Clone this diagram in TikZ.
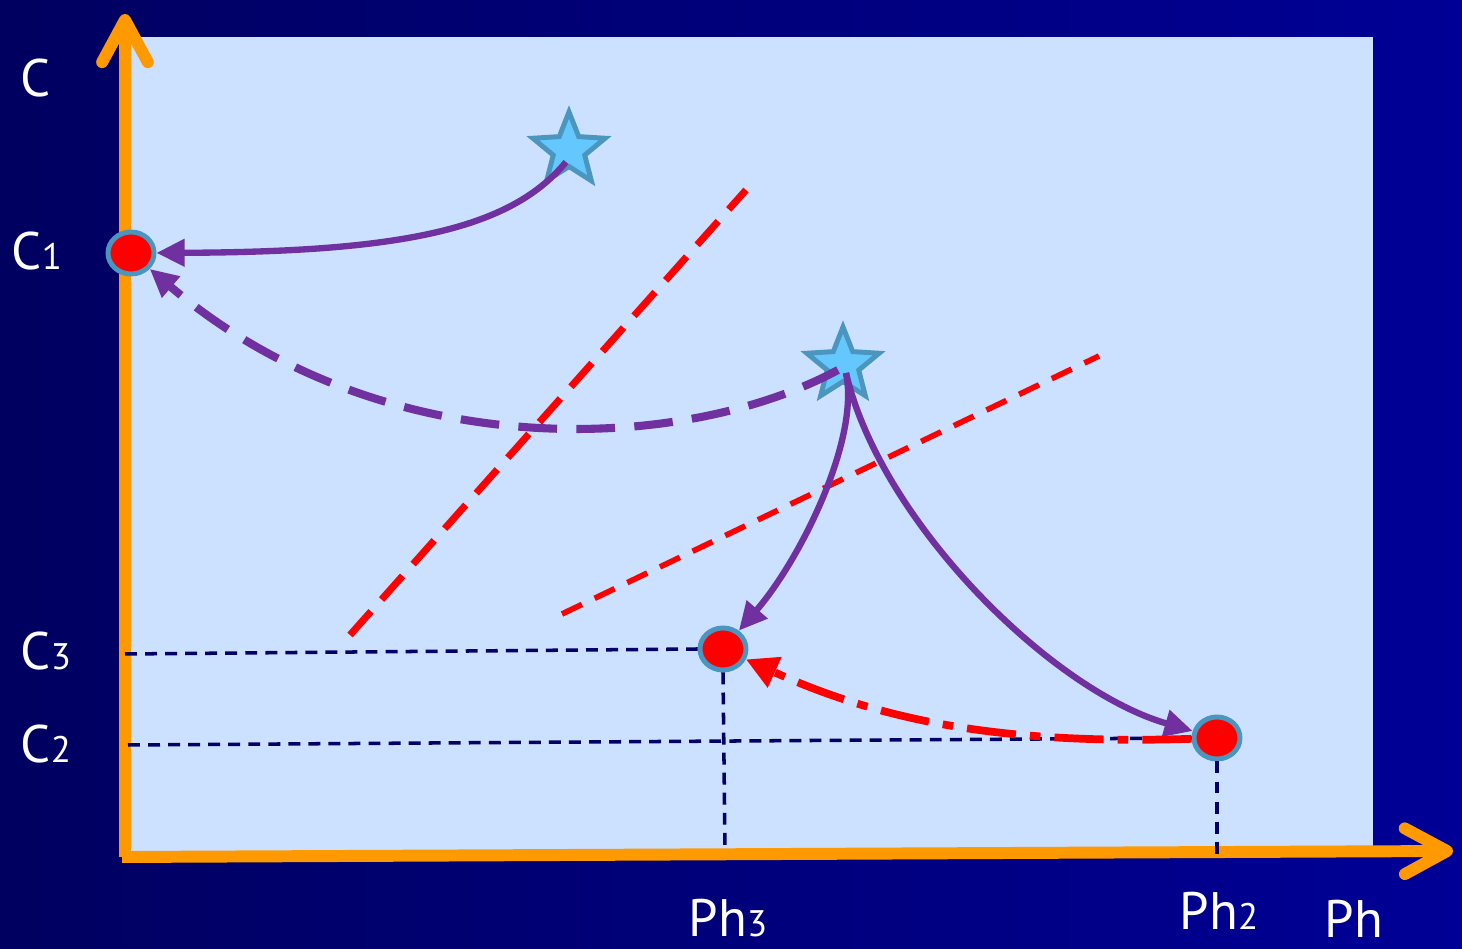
\documentclass[tikz,border=0pt]{standalone}
\usepackage{fontspec}
\setmainfont{PT Sans}
\usetikzlibrary{arrows.meta,shapes.geometric}

\definecolor{navybg}{RGB}{0,0,96}
\definecolor{bluebg}{RGB}{0,0,150}
\definecolor{panel}{RGB}{204,224,255}
\definecolor{axisorange}{RGB}{255,153,0}
\definecolor{pathpurple}{RGB}{112,48,160}
\definecolor{ringblue}{RGB}{75,150,190}
\definecolor{starfill}{RGB}{100,200,255}
\definecolor{guidenavy}{RGB}{0,0,102}

\newcommand{\sublbl}[2]{#1{\fontsize{10.5}{11}\selectfont #2}}

\begin{document}
\begin{tikzpicture}[x=0.01cm, y=-0.01cm,
    dot/.style={ellipse, draw=ringblue, fill=red, line width=1.4pt, minimum width=0.46cm, minimum height=0.42cm, inner sep=0pt},
    starmark/.style={star, star points=5, star point ratio=2.3, draw=ringblue, fill=starfill, line width=1.4pt, minimum size=0.76cm, inner sep=0pt},
    axislbl/.style={anchor=base west, text=white, inner sep=0pt, font=\fontsize{15}{16}\selectfont},
    flow/.style={pathpurple, line width=1.8pt, -{Triangle[length=8pt, width=7.5pt]}},
    guide/.style={guidenavy, line width=1pt, dash pattern=on 3.4pt off 2.3pt},
    boundary/.style={red, line cap=butt}]
    % Background
    \shade[left color=navybg, right color=bluebg] (0,0) rectangle (1462,949);
    \fill[panel] (125,37) rectangle (1373,855);

    % Axes
    \draw[axisorange, line width=3.4pt, -{Straight Barb[round, length=12pt, width=13pt]}] (125,857) -- (125,14);
    \draw[axisorange, line width=3.4pt, -{Straight Barb[round, length=12pt, width=13pt]}] (122,857) -- (1453,851);

    % Axis labels
    \node[axislbl] (lblC) at (20,97) {C};
    \node[axislbl] (lblCa) at (11,270) {\sublbl{C}{1}};
    \node[axislbl] (lblCc) at (20,670) {\sublbl{C}{3}};
    \node[axislbl] (lblCb) at (20,763) {\sublbl{C}{2}};
    \node[axislbl] (lblPc) at (688,937) {\sublbl{Ph}{3}};
    \node[axislbl] (lblPb) at (1179,930) {\sublbl{Ph}{2}};
    \node[axislbl] (lblPh) at (1324,938) {Ph};

    % Phase boundaries
    \draw[boundary, line width=2pt, dash pattern=on 9pt off 4.5pt] (350,635) -- (746,190);
    \draw[boundary, line width=1.6pt, dash pattern=on 6.3pt off 4pt] (562,614) -- (1099,356);

    % States
    \node[dot] (c1pt) at (131,253) {};
    \node[dot] (c3pt) at (723,649) {};
    \node[dot] (c2pt) at (1217,738) {};
    \node[starmark] (starA) at (569,150) {};
    \node[starmark] (starB) at (843,365) {};

    % Guide lines
    \draw[guide] (125,654) -- (c3pt.west);
    \draw[guide] (128,745) -- (c2pt.west);
    \draw[guide] (c3pt.south) -- (725,848);
    \draw[guide] (c2pt.south) -- (1217,855);

    % Paths
    \draw[flow] (starA.center) ++(-3,12) .. controls (510,230) and (400,252) .. (c1pt);
    \draw[flow, line width=2.3pt, dash pattern=on 11pt off 5.5pt] (starB.center) ++(-5,5) .. controls (680,455) and (380,465) .. (c1pt);
    \draw[flow] (starB.center) ++(3,8) .. controls (860,440) and (800,560) .. (c3pt);
    \draw[flow] (starB.center) ++(3,8) .. controls (880,520) and (1050,690) .. (c2pt);
    \draw[red, line width=2.2pt, dash pattern=on 14pt off 4pt on 3pt off 4pt, -{Triangle[length=9pt, width=9pt]}] (c2pt) .. controls (1000,745) and (880,720) .. (c3pt);
\end{tikzpicture}
\end{document}
